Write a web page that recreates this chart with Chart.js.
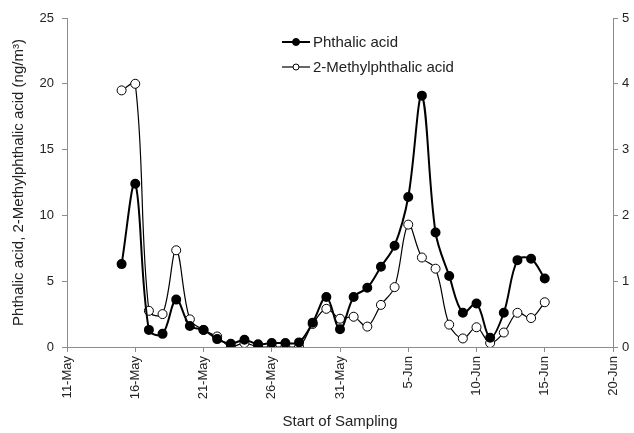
<!DOCTYPE html>
<html lang="en">
  <head>
    <meta charset="UTF-8" />
    <title>Phthalic acid</title>
    <style>
      body {
        margin: 0;
        background: #fff;
      }
    </style>
  </head>
  <body>
    <canvas id="phthalicChart" width="634" height="433"></canvas>

    <script src="https://cdn.jsdelivr.net/npm/chart.js"></script>

    <script>
      // days counted from 11-May
      const sampleDays = [
        4, 5, 6, 7, 8, 9, 10, 11, 12, 13, 14, 15, 16, 17, 18, 19, 20, 21, 22,
        23, 24, 25, 26, 27, 28, 29, 30, 31, 32, 33, 34, 35,
      ];
      const xTickLabels = [
        "11-May", "16-May", "21-May", "26-May", "31-May",
        "5-Jun", "10-Jun", "15-Jun", "20-Jun",
      ];

      // left axis
      const phthalic = [
        6.3, 12.4, 1.3, 1.0, 3.6, 1.6, 1.3, 0.6, 0.25, 0.55, 0.2, 0.3, 0.3,
        0.35, 1.85, 3.8, 1.35, 3.8, 4.5, 6.1, 7.7, 11.4, 19.1, 8.7, 5.4, 2.6,
        3.3, 0.7, 2.6, 6.6, 6.7, 5.2,
      ];
      // right axis
      const methylPhthalic = [
        3.9, 4.0, 0.55, 0.5, 1.47, 0.42, 0.26, 0.16, 0.0, 0.06, 0.0, 0.0, 0.0,
        0.0, 0.35, 0.58, 0.43, 0.46, 0.31, 0.64, 0.91, 1.86, 1.36, 1.19, 0.34,
        0.13, 0.3, 0.06, 0.22, 0.52, 0.44, 0.68,
      ];

      const toPoints = (vals) => vals.map((v, i) => ({ x: sampleDays[i], y: v }));

      const axisColor = "#8c8c8c";
      const textColor = "#222";
      const fontFamily = "'Liberation Sans', Arial, sans-serif";

      // legend drawn inside the plot, stacked like the original
      const insideLegend = {
        id: "insideLegend",
        afterDraw(chart) {
          const ctx = chart.ctx;
          const rows = [42, 67];
          chart.data.datasets.forEach((ds, i) => {
            const y = rows[i];
            ctx.save();
            ctx.strokeStyle = ds.borderColor;
            ctx.lineWidth = ds.borderWidth;
            ctx.beginPath();
            ctx.moveTo(282, y);
            ctx.lineTo(310, y);
            ctx.stroke();
            ctx.beginPath();
            ctx.arc(296, y, i === 0 ? 3.5 : 3, 0, Math.PI * 2);
            ctx.fillStyle = ds.pointBackgroundColor;
            ctx.fill();
            ctx.lineWidth = 1;
            ctx.strokeStyle = ds.pointBorderColor;
            ctx.stroke();
            ctx.fillStyle = textColor;
            ctx.font = "15px " + fontFamily;
            ctx.textBaseline = "middle";
            ctx.fillText(ds.label, 313, y + 1);
            ctx.restore();
          });
        },
      };

      const ctx = document.getElementById("phthalicChart").getContext("2d");

      const chart = new Chart(ctx, {
        type: "line",
        data: {
          datasets: [
            {
              label: "Phthalic acid",
              data: toPoints(phthalic),
              yAxisID: "y",
              borderColor: "#000",
              borderWidth: 2,
              pointRadius: 4,
              pointBackgroundColor: "#000",
              pointBorderColor: "#000",
              tension: 0.35,
            },
            {
              label: "2-Methylphthalic acid",
              data: toPoints(methylPhthalic),
              yAxisID: "y1",
              borderColor: "#000",
              borderWidth: 1.2,
              pointRadius: 4.5,
              pointBorderWidth: 1,
              pointBackgroundColor: "#fff",
              pointBorderColor: "#000",
              tension: 0.35,
            },
          ],
        },
        options: {
          responsive: false,
          animation: false,
          layout: { padding: { top: 18, left: 0, right: 0, bottom: 0 } },
          plugins: {
            legend: { display: false },
            tooltip: { enabled: false },
          },
          scales: {
            x: {
              type: "linear",
              min: 0,
              max: 40,
              afterFit: (s) => { s.height = 86; },
              afterBuildTicks: (s) => {
                s.ticks = xTickLabels.map((_, i) => ({ value: i * 5 }));
              },
              ticks: {
                autoSkip: false,
                minRotation: 90,
                maxRotation: 90,
                padding: 4,
                color: textColor,
                font: { family: fontFamily, size: 13 },
                callback: (v) => xTickLabels[v / 5],
              },
              grid: {
                drawOnChartArea: false,
                tickLength: 5,
                color: axisColor,
              },
              border: { color: axisColor },
              title: {
                display: true,
                text: "Start of Sampling",
                color: textColor,
                font: { family: fontFamily, size: 15 },
                padding: { top: 0, bottom: 2 },
              },
            },
            y: {
              position: "left",
              min: 0,
              max: 25,
              afterFit: (s) => { s.width = 67; },
              ticks: {
                stepSize: 5,
                padding: 8,
                color: textColor,
                font: { family: fontFamily, size: 13 },
              },
              grid: {
                drawOnChartArea: false,
                tickLength: 5,
                color: axisColor,
              },
              border: { color: axisColor },
              title: {
                display: true,
                text: "Phthalic acid, 2-Methylphthalic acid (ng/m³)",
                color: textColor,
                font: { family: fontFamily, size: 15 },
                padding: { top: 10, bottom: 0 },
              },
            },
            y1: {
              position: "right",
              min: 0,
              max: 5,
              afterFit: (s) => { s.width = 21; },
              ticks: {
                stepSize: 1,
                padding: 4,
                color: textColor,
                font: { family: fontFamily, size: 13 },
              },
              grid: {
                drawOnChartArea: false,
                tickLength: 5,
                color: axisColor,
              },
              border: { color: axisColor },
            },
          },
        },
        plugins: [insideLegend],
      });
    </script>
  </body>
</html>
